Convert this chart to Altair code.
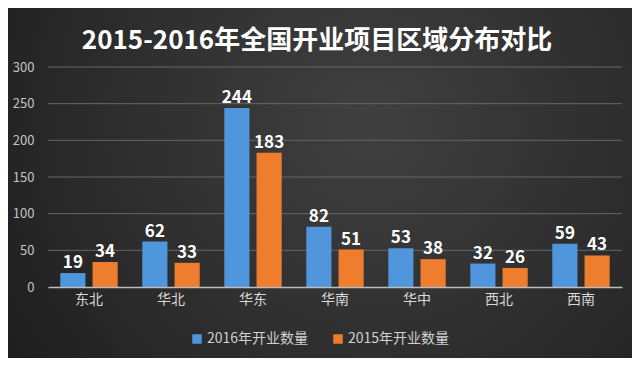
import altair as alt
import pandas as pd

categories = ["东北", "华北", "华东", "华南", "华中", "西北", "西南"]
series = ["2016年开业数量", "2015年开业数量"]
v2016 = [19, 62, 244, 82, 53, 32, 59]
v2015 = [34, 33, 183, 51, 38, 26, 43]
y_ticks = [0, 50, 100, 150, 200, 250, 300]
colors = ["#5096dc", "#ee7d2e"]
title = "2015-2016年全国开业项目区域分布对比"

rows = []
for c, a, b in zip(categories, v2016, v2015):
    rows.append({"region": c, "series": series[0], "value": a})
    rows.append({"region": c, "series": series[1], "value": b})
df = pd.DataFrame(rows)

W, H = 574, 220
PL, PT = 40, 59
PR = 624 - PL - W
PB = 350 - PT - H

FONT = "Noto Sans CJK SC"

bg = alt.Chart(pd.DataFrame({"a": [0]})).mark_rect(
    fill=alt.Gradient(
        gradient="radial",
        stops=[alt.GradientStop(color="#404040", offset=0),
               alt.GradientStop(color="#2d2d2d", offset=0.55),
               alt.GradientStop(color="#1b1b1b", offset=1)],
        x1=0.58, y1=0.4, r1=0, x2=0.58, y2=0.4, r2=0.75,
    )
).encode(
    x=alt.value(-PL), x2=alt.value(W + PR),
    y=alt.value(-PT), y2=alt.value(H + PB),
)

yscale = alt.Scale(domain=[0, 300])
yaxis = alt.Axis(values=y_ticks, labelOverlap=False,
                 labelColor="#c4c4c4", labelFontSize=13, labelFont=FONT,
                 labelPadding=14, ticks=False, domain=False,
                 grid=False, zindex=1)

grid = alt.Chart(pd.DataFrame({"value": y_ticks[1:]})).mark_rule(
    color="#666666", strokeWidth=1
).encode(y=alt.Y("value:Q", title=None, scale=yscale, axis=yaxis))

x = alt.X("region:N", sort=categories, title=None,
          scale=alt.Scale(paddingInner=0.3, paddingOuter=0.15),
          axis=alt.Axis(labelAngle=0, labelColor="#d8d8d8", labelFontSize=14,
                        labelFont=FONT, labelPadding=5, ticks=False,
                        domainColor="#bdbdbd", domainWidth=1.5, grid=False,
                        zindex=1))
xo = alt.XOffset("series:N", sort=series,
                 scale=alt.Scale(paddingInner=0.22, paddingOuter=0))
y = alt.Y("value:Q", title=None, scale=yscale, axis=yaxis)

bars = alt.Chart(df).mark_bar().encode(
    x=x, xOffset=xo, y=y,
    color=alt.Color("series:N", sort=series,
                    scale=alt.Scale(domain=series, range=colors),
                    legend=alt.Legend(title=None, orient="none", direction="horizontal",
                                      legendX=142, legendY=265,
                                      symbolType="square", symbolSize=90,
                                      symbolStrokeWidth=0,
                                      labelColor="#d0d0d0", labelFontSize=14,
                                      labelFont=FONT, columnPadding=22,
                                      labelOffset=3, zindex=1)),
)

labels = alt.Chart(df).mark_text(
    dy=-10, color="white", fontSize=17, fontWeight="bold", font=FONT
).encode(
    x=alt.X("region:N", sort=categories), xOffset=alt.XOffset("series:N", sort=series),
    y=alt.Y("value:Q", scale=yscale, axis=yaxis), text="value:Q",
)

chart = alt.layer(bg, grid, bars, labels).properties(
    width=W, height=H,
    autosize=alt.AutoSizeParams(type="none"),
    padding={"left": PL, "top": PT, "right": PR, "bottom": PB},
    background="#262626",
    title=alt.TitleParams(title, anchor="middle", color="white", fontSize=26,
                          font=FONT, fontWeight="bold", offset=0, dx=-18, dy=46,
                          zindex=1),
).configure_view(stroke=None)

chart.save("out.html", embed_options={"renderer": "svg", "actions": False})
